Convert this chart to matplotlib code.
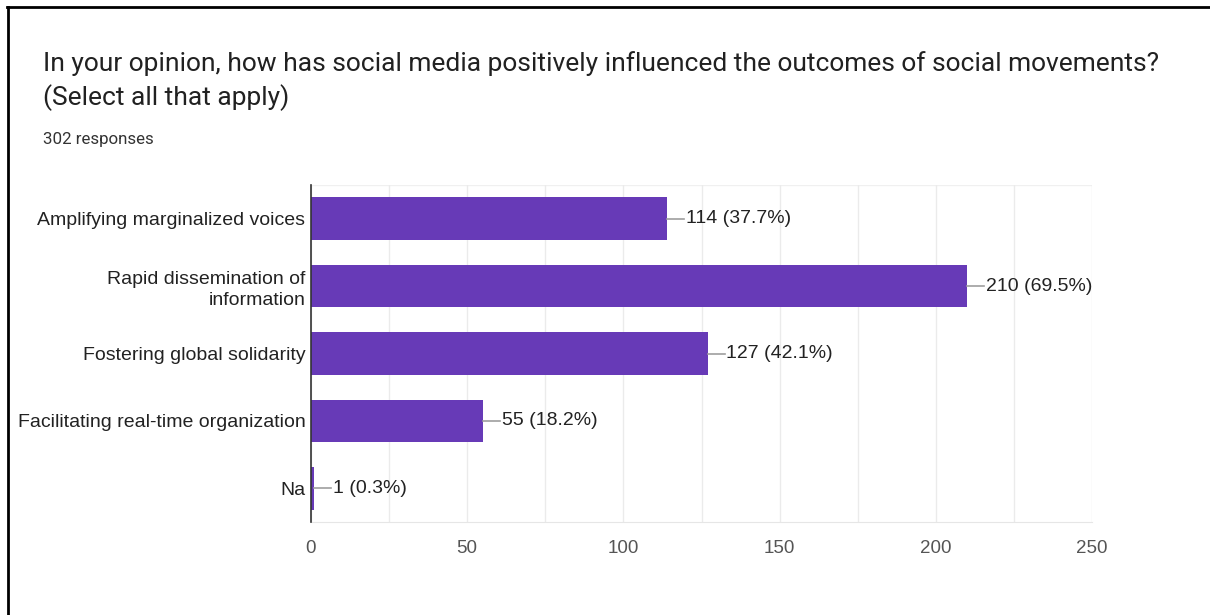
import matplotlib
matplotlib.use("Agg")
import matplotlib.pyplot as plt
from matplotlib.lines import Line2D

categories = [
    "Amplifying marginalized voices",
    "Rapid dissemination of\ninformation",
    "Fostering global solidarity",
    "Facilitating real-time organization",
    "Na",
]
counts = [114, 210, 127, 55, 1]
percents = [37.7, 69.5, 42.1, 18.2, 0.3]
x_ticks = [0, 50, 100, 150, 200, 250]

title_lines = [
    "In your opinion, how has social media positively influenced the outcomes of social movements?",
    "(Select all that apply)",
]
subtitle = "302 responses"

W, H = 1210, 615
fig = plt.figure(figsize=(W / 100, H / 100), dpi=100)
fig.patch.set_facecolor("white")

# axes box in pixel coordinates
left, right, top, bottom = 311, 1092, 185, 522
ax = fig.add_axes([left / W, 1 - bottom / H, (right - left) / W, (bottom - top) / H])

bar_color = "#673ab7"
label_font = "Liberation Sans"
label_size = 14
y = list(range(len(categories)))
ax.barh(y, counts, height=0.63, color=bar_color, zorder=3)
ax.set_ylim(len(categories) - 0.5, -0.5)
ax.set_xlim(0, 250)

# grid every 25
ax.set_xticks(x_ticks)
ax.set_xticks([v for v in range(25, 250, 50)], minor=True)
ax.grid(axis="x", which="both", color="#ebebeb", linewidth=1, zorder=0)
ax.tick_params(axis="x", which="both", length=0, pad=13, labelsize=13.5, labelcolor="#555555")
ax.tick_params(axis="y", length=0, pad=4, labelsize=label_size, labelcolor="#222222")
for lbl in ax.get_xticklabels():
    lbl.set_fontfamily(label_font)
ax.set_yticks(y)
ax.set_yticklabels(categories, fontfamily=label_font, ha="right", linespacing=1.3)

for s in ["top", "right"]:
    ax.spines[s].set_visible(False)
ax.axhline(-0.5, color="#f0f0f0", linewidth=1, zorder=0)
ax.spines["bottom"].set_color("#e6e6e6")
ax.spines["left"].set_color("#333333")
ax.spines["left"].set_linewidth(1.2)
ax.spines["left"].set_zorder(4)

# value labels with small leader lines
for i, (c, p) in enumerate(zip(counts, percents)):
    ax.plot([c, c + 5.5], [i, i], color="#9e9e9e", linewidth=1.2, zorder=4, clip_on=False)
    ax.text(c + 6.0, i, f"{c} ({p}%)", va="center", ha="left", fontsize=label_size,
            color="#222222", fontfamily=label_font, zorder=5)

fig.text(43 / W, 1 - 64 / H, title_lines[0], fontsize=19, color="#212121", fontfamily="Roboto",
         ha="left", va="center")
fig.text(43 / W, 1 - 98 / H, title_lines[1], fontsize=19, color="#212121", fontfamily="Roboto",
         ha="left", va="center")
fig.text(43 / W, 1 - 139 / H, subtitle, fontsize=12.2, color="#333333", fontfamily="Roboto",
         ha="left", va="center")

# frame lines along the top and left edges
fig.add_artist(Line2D([7 / W, 1], [1 - 6.5 / H, 1 - 6.5 / H], transform=fig.transFigure,
                      color="black", linewidth=2))
fig.add_artist(Line2D([7.5 / W, 7.5 / W], [0, 1 - 6.5 / H], transform=fig.transFigure,
                      color="black", linewidth=2))

fig.savefig("out.png", dpi=100, facecolor="white")
